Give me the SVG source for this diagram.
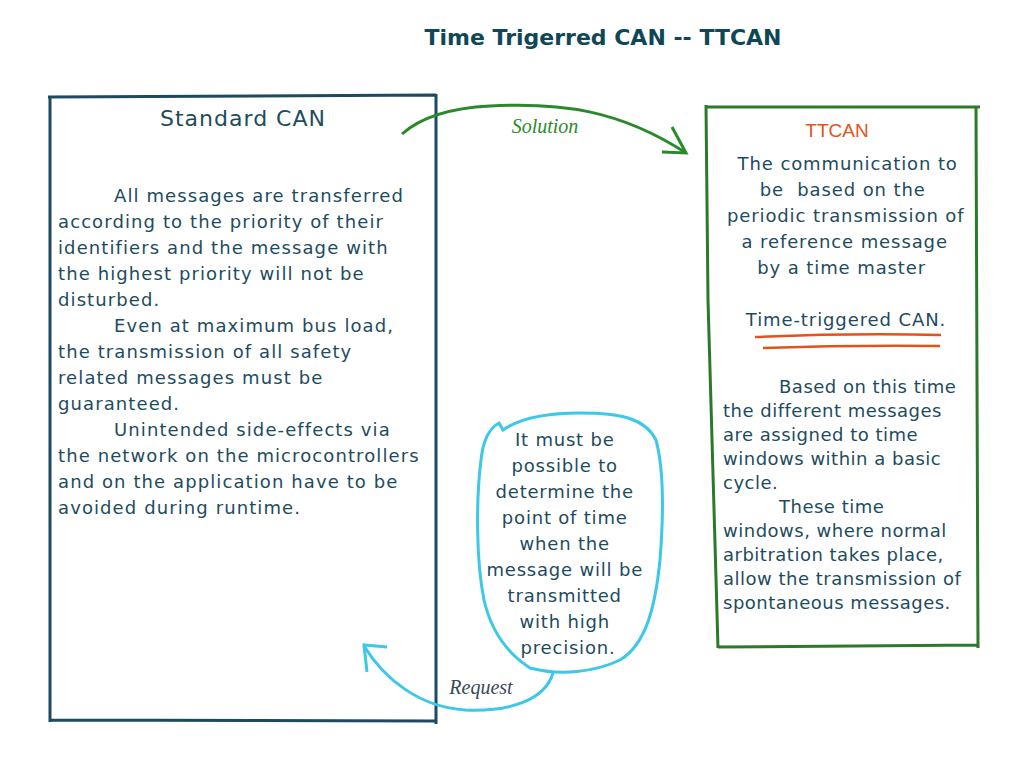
<svg xmlns="http://www.w3.org/2000/svg" width="1024" height="768" viewBox="0 0 1024 768">
<style>
.t{font-family:"DejaVu Sans",Verdana,sans-serif;font-size:18px;fill:#1d4c5e}
.c{text-anchor:middle}
.lbl{font-family:"Liberation Serif","Times New Roman",serif;font-style:italic;font-size:20px}
</style>
<rect width="1024" height="768" fill="#fff"/>
<text x="603" y="45" class="t c" style="font-weight:bold;font-size:22px;fill:#0f4757">Time Trigerred CAN -- TTCAN</text>
<g id="standard-can">
<path d="M50,96 L50,722 M48,97 L436,95 M436,94 L436,724 M51,720 L436,721" fill="none" stroke="#1c4a62" stroke-width="3"/>
<text x="243" y="126" class="t c" style="font-size:22px;letter-spacing:1px">Standard CAN</text>
<text class="t" style="letter-spacing:1.1px">
<tspan x="114" y="202">All messages are transferred</tspan>
<tspan x="58" y="228">according to the priority of their</tspan>
<tspan x="58" y="254">identifiers and the message with</tspan>
<tspan x="58" y="280">the highest priority will not be</tspan>
<tspan x="58" y="306">disturbed.</tspan>
<tspan x="114" y="332">Even at maximum bus load,</tspan>
<tspan x="58" y="358">the transmission of all safety</tspan>
<tspan x="58" y="384">related messages must be</tspan>
<tspan x="58" y="410">guaranteed.</tspan>
<tspan x="114" y="436">Unintended side-effects via</tspan>
<tspan x="58" y="462">the network on the microcontrollers</tspan>
<tspan x="58" y="488">and on the application have to be</tspan>
<tspan x="58" y="514">avoided during runtime.</tspan>
</text>
</g>
<g id="ttcan">
<path d="M706,105 L708,300 L718,648 M705,107 L980,107 M976,106 L978,648 M718,647 L978,645" fill="none" stroke="#2a7a2a" stroke-width="3"/>
<text x="837" y="137" class="c" style="font-family:'Liberation Sans',Arial,sans-serif;font-size:19px;fill:#e0541a">TTCAN</text>
<text class="t c" style="letter-spacing:0.9px">
<tspan x="851" y="170">The communication to</tspan>
<tspan x="846" y="196">be&#160; based on the</tspan>
<tspan x="849" y="222">periodic transmission of</tspan>
<tspan x="848" y="248">a reference message</tspan>
<tspan x="845" y="274">by a time master</tspan>
<tspan x="846" y="326">Time-triggered CAN.</tspan>
</text>
<path d="M755,337 Q850,333 941,335 M763,348 Q850,345 940,346" fill="none" stroke="#e0541a" stroke-width="2.5"/>
<text class="t" style="letter-spacing:0.5px">
<tspan x="779" y="393">Based on this time</tspan>
<tspan x="723" y="417">the different messages</tspan>
<tspan x="723" y="441">are assigned to time</tspan>
<tspan x="723" y="465">windows within a basic</tspan>
<tspan x="723" y="489">cycle.</tspan>
<tspan x="779" y="513">These time</tspan>
<tspan x="723" y="537">windows, where normal</tspan>
<tspan x="723" y="561">arbitration takes place,</tspan>
<tspan x="723" y="585">allow the transmission of</tspan>
<tspan x="723" y="609">spontaneous messages.</tspan>
</text>
</g>
<g id="precision-bubble">
<path d="M503,430 L499,423 C490,428 483,440 481,460 C476,500 476,560 484,600 C492,635 510,655 530,668 C560,676 595,672 620,660 C645,645 655,610 660,560 C664,510 664,470 656,440 C645,418 620,413 580,413 C545,413 520,418 503,430 Z" fill="none" stroke="#3cc8e6" stroke-width="3"/>
<text class="t c" style="letter-spacing:0.8px">
<tspan x="568" y="446">It must be</tspan>
<tspan x="568" y="472">possible to</tspan>
<tspan x="568" y="498">determine the</tspan>
<tspan x="568" y="524">point of time</tspan>
<tspan x="568" y="550">when the</tspan>
<tspan x="568" y="576">message will be</tspan>
<tspan x="568" y="602">transmitted</tspan>
<tspan x="568" y="628">with high</tspan>
<tspan x="568" y="654">precision.</tspan>
</text>
</g>
<g id="connectors">
<path d="M402,134 C420,118 450,108 490,106 C560,102 620,110 686,153" fill="none" stroke="#2a8a2a" stroke-width="3"/>
<path d="M672,127 L686,153 L662,152" fill="none" stroke="#2a8a2a" stroke-width="3"/>
<path d="M553,673 C545,700 510,712 465,710 C420,707 385,680 364,646" fill="none" stroke="#3cc8e6" stroke-width="3"/>
<path d="M387,647 L364,645 L367,672" fill="none" stroke="#3cc8e6" stroke-width="3"/>
<text x="545" y="133" class="lbl c" style="fill:#2a8a2a">Solution</text>
<text x="481" y="694" class="lbl c" style="fill:#3a4a5a">Request</text>
</g>
</svg>
